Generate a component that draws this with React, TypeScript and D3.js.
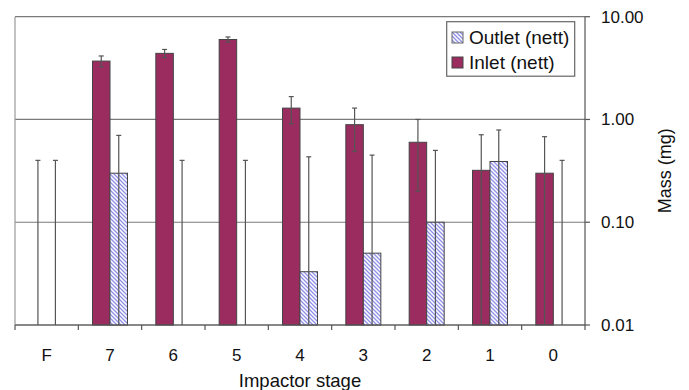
import React from "react";
import * as d3 from "d3";

const categories = ["F", "7", "6", "5", "4", "3", "2", "1", "0"];
const inletValues = [0, 3.7, 4.4, 6.0, 1.29, 0.89, 0.6, 0.32, 0.3];
const inletErrors = [0.4, 0.45, 0.4, 0.35, 0.38, 0.4, 0.4, 0.39, 0.38];
const outletValues = [0, 0.3, 0, 0, 0.033, 0.05, 0.1, 0.39, 0];
const outletErrors = [0.4, 0.4, 0.4, 0.4, 0.4, 0.4, 0.4, 0.4, 0.4];
const yTicks = [0.01, 0.1, 1, 10];
const seriesNames = ["Inlet (nett)", "Outlet (nett)"];

const W = 689;
const H = 390;
const left = 15;
const right = 585;
const top = 16.7;
const bottom = 325;
const font = "'Liberation Sans', Arial, sans-serif";
const inletColor = "#9a2c60";
const hatchColor = "#8f8fe8";
const gridColor = "#7a7a7a";
const errColor = "#555";

export default function App() {
  const x = d3.scaleBand<string>().domain(categories).range([left, right]).paddingInner(0).paddingOuter(0);
  const y = d3.scaleLog().domain([0.01, 10]).range([bottom, top]);
  const groupW = 35;
  const sub = d3.scaleBand<string>().domain(seriesNames).range([0, groupW]);
  const bw = sub.bandwidth();
  const yc = (v: number) => (v <= 0.01 ? bottom : Math.max(top, y(v)));

  const series = [
    { name: seriesNames[0], values: inletValues, errors: inletErrors },
    { name: seriesNames[1], values: outletValues, errors: outletErrors },
  ];

  return (
    <svg width={W} height={H} style={{ position: "absolute", left: 0, top: 0, background: "#fff" }}>
      <defs>
        <pattern id="hatch" patternUnits="userSpaceOnUse" width="4" height="4">
          <rect width="4" height="4" fill="#fff" />
          <path d="M-1,-1 L5,5 M-1,3 L1,5 M3,-1 L5,1" stroke={hatchColor} strokeWidth="1.3" />
        </pattern>
      </defs>
      <rect x={0} y={0} width={W} height={H} fill="#fff" />
      {yTicks.map((t) => (
        <line key={"g" + t} x1={left} x2={right} y1={y(t)} y2={y(t)} stroke={gridColor} strokeWidth={1.2} />
      ))}
      <line x1={left} x2={left} y1={top} y2={bottom} stroke="#999" strokeWidth={1.2} />
      {series.map((s, si) =>
        categories.map((c, i) => {
          const v = s.values[i];
          if (v <= 0) return null;
          const bx = (x(c) as number) + x.bandwidth() / 2 - groupW / 2 + (sub(s.name) as number);
          return (
            <rect
              key={s.name + c}
              x={bx}
              y={y(v)}
              width={bw}
              height={bottom - y(v)}
              fill={si === 0 ? inletColor : "url(#hatch)"}
              stroke="#444"
              strokeWidth={1}
            />
          );
        })
      )}
      {series.map((s) =>
        categories.map((c, i) => {
          const v = s.values[i];
          const e = s.errors[i];
          const cx = (x(c) as number) + x.bandwidth() / 2 - groupW / 2 + (sub(s.name) as number) + bw / 2;
          const yt = yc(v + e);
          const yb = yc(v - e);
          return (
            <g key={"e" + s.name + c} stroke={errColor} strokeWidth={1.2}>
              <line x1={cx} x2={cx} y1={yt} y2={yb} />
              {v + e < 10 && <line x1={cx - 2.5} x2={cx + 2.5} y1={yt} y2={yt} />}
              {v - e > 0.01 && <line x1={cx - 2.5} x2={cx + 2.5} y1={yb} y2={yb} />}
            </g>
          );
        })
      )}
      <line x1={left} x2={right} y1={bottom} y2={bottom} stroke="#555" strokeWidth={1.2} />
      {[...categories.map((c) => x(c) as number), right].map((px, i) => (
        <line key={"bt" + i} x1={px} x2={px} y1={bottom} y2={bottom + 5} stroke="#555" strokeWidth={1.2} />
      ))}
      {categories.map((c) => (
        <text
          key={"bl" + c}
          x={(x(c) as number) + x.bandwidth() / 2}
          y={360.5}
          textAnchor="middle"
          fontFamily={font}
          fontSize={17}
          fill="#111"
        >
          {c}
        </text>
      ))}
      <text x={(left + right) / 2} y={386.5} textAnchor="middle" fontFamily={font} fontSize={18.5} fill="#111">
        Impactor stage
      </text>
      <line x1={right} x2={right} y1={top} y2={bottom} stroke="#555" strokeWidth={1.2} />
      {yTicks.map((t) => (
        <g key={"yt" + t}>
          <line x1={right} x2={right + 5} y1={y(t)} y2={y(t)} stroke="#555" strokeWidth={1.2} />
          <text x={601} y={y(t)} dy="0.35em" fontFamily={font} fontSize={17} fill="#111">
            {d3.format(".2f")(t)}
          </text>
        </g>
      ))}
      <text
        transform={`translate(671,${(top + bottom) / 2}) rotate(-90)`}
        textAnchor="middle"
        fontFamily={font}
        fontSize={18}
        fill="#111"
      >
        Mass (mg)
      </text>
      <rect x={446.7} y={21.7} width={128} height={54.5} fill="#fff" stroke="#666" strokeWidth={1.2} />
      <rect x={452} y={32} width={11} height={11} fill="url(#hatch)" stroke="#666" strokeWidth={1} />
      <text x={469} y={37.5} dy="0.35em" fontFamily={font} fontSize={19} fill="#111">
        {seriesNames[1]}
      </text>
      <rect x={452} y={57} width={11} height={11} fill={inletColor} stroke="#444" strokeWidth={1} />
      <text x={469} y={62.5} dy="0.35em" fontFamily={font} fontSize={19} fill="#111">
        {seriesNames[0]}
      </text>
    </svg>
  );
}
